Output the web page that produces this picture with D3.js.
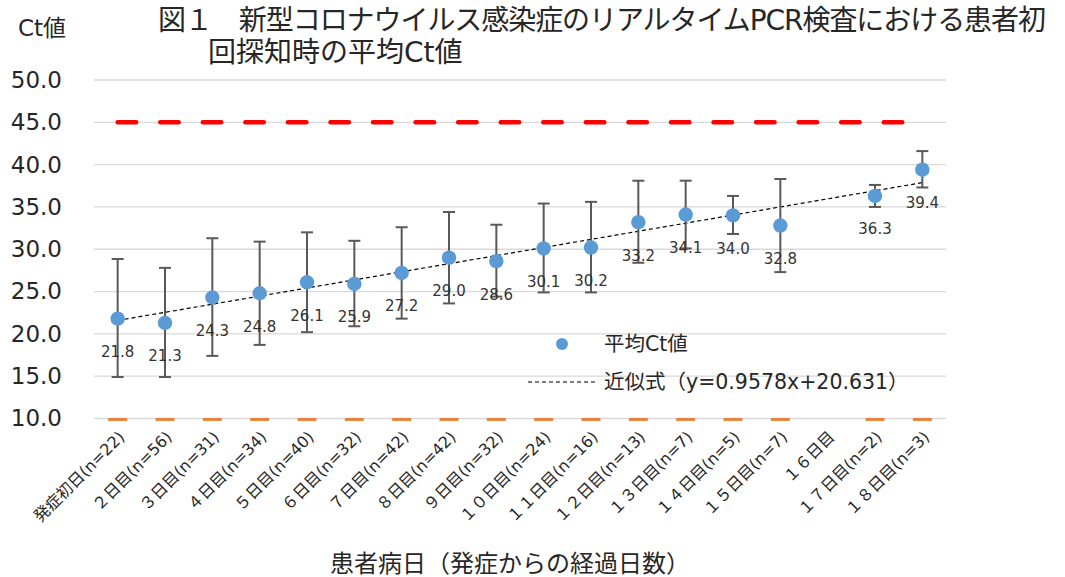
<!DOCTYPE html>
<html><head><meta charset="utf-8">
<script src="https://cdn.jsdelivr.net/npm/d3@7"></script>
<style>
body{margin:0;background:#fff;}
svg text{font-family:"DejaVu Sans","Noto Sans CJK JP",sans-serif;}
</style></head>
<body><svg id="c" width="1065" height="577"></svg>
<script>
const categories = ["発症初日(n=22)","２日目(n=56)","３日目(n=31)","４日目(n=34)","５日目(n=40)","６日目(n=32)","７日目(n=42)","８日目(n=42)","９日目(n=32)","１０日目(n=24)","１１日目(n=16)","１２日目(n=13)","１３日目(n=7)","１４日目(n=5)","１５日目(n=7)","１６日目","１７日目(n=2)","１８日目(n=3)"];
const meanCt = [21.8,21.3,24.3,24.8,26.1,25.9,27.2,29.0,28.6,30.1,30.2,33.2,34.1,34.0,32.8,null,36.3,39.4];
const errHigh = [28.85,27.8,31.3,30.9,32.0,31.0,32.6,34.4,32.9,35.4,35.6,38.1,38.1,36.3,38.3,null,37.6,41.6];
const errLow = [14.9,14.9,17.4,18.7,20.2,20.9,21.8,23.6,24.4,24.9,24.9,28.4,30.1,31.8,27.3,null,35.0,37.3];
const upperLimit = [45,45,45,45,45,45,45,45,45,45,45,45,45,45,45,45,45,45];
const lowerLimit = [10,10,10,10,10,10,10,10,10,10,10,10,10,10,10,null,10,10];
const trendSlope = 0.9578, trendIntercept = 20.631;
const yTicks = [10,15,20,25,30,35,40,45,50];
const titleLines = ["図１　新型コロナウイルス感染症のリアルタイムPCR検査における患者初","回探知時の平均Ct値"];
const yTitle = "Ct値";
const xTitle = "患者病日（発症からの経過日数）";
const legendLabels = ["平均Ct値","近似式（y=0.9578x+20.631）"];

const svg = d3.select("#c");
const x = d3.scaleBand().domain(categories).range([94,946]);
const cx = d => x(d) + x.bandwidth()/2;
const y = d3.scaleLinear().domain([10,50]).range([418.5,80]);
const txt = "#262626";

// gridlines
svg.append("g").selectAll("line").data(yTicks).join("line")
  .attr("x1",94).attr("x2",946).attr("y1",d=>y(d)).attr("y2",d=>y(d))
  .attr("stroke","#d9d9d9").attr("stroke-width",1.3);

// y axis labels
const ya = svg.append("g").attr("transform","translate(94,0)")
  .call(d3.axisLeft(y).tickValues(yTicks).tickFormat(d3.format(".1f")).tickSize(0).tickPadding(32));
ya.select(".domain").remove();
ya.selectAll("text").attr("font-size",23).attr("fill",txt).attr("font-family","DejaVu Sans");

// x axis labels
const idx = categories.map((c,i)=>i);
svg.append("g").selectAll("text").data(categories).join("text")
  .attr("transform",d=>`translate(${cx(d)+4},${434}) rotate(-45)`)
  .attr("text-anchor","end").attr("dy","0.35em")
  .attr("font-size",16).attr("fill",txt)
  .text(d=>d);

// upper limit red dashed line
const upPts = categories.map((c,i)=>[cx(c),upperLimit[i]]).filter(p=>p[1]!=null);
svg.append("path").datum(upPts)
  .attr("d",d3.line().x(p=>p[0]).y(p=>y(p[1])))
  .attr("fill","none").attr("stroke","#ff0000").attr("stroke-width",4.5)
  .attr("stroke-linecap","round").attr("stroke-dasharray","18.5,24.06");

// lower limit orange dash markers
svg.append("g").selectAll("line").data(idx.filter(i=>lowerLimit[i]!=null)).join("line")
  .attr("x1",i=>cx(categories[i])-9.5).attr("x2",i=>cx(categories[i])+9.5)
  .attr("y1",i=>y(lowerLimit[i])+1).attr("y2",i=>y(lowerLimit[i])+1)
  .attr("stroke","#ed7d31").attr("stroke-width",2.8);

// trend line
const tx = [1,categories.length];
svg.append("line")
  .attr("x1",cx(categories[0])).attr("x2",cx(categories[categories.length-1]))
  .attr("y1",y(trendSlope*tx[0]+trendIntercept)).attr("y2",y(trendSlope*tx[1]+trendIntercept))
  .attr("stroke","#000").attr("stroke-width",1.2).attr("stroke-dasharray","4,3");

// error bars
const valid = idx.filter(i=>meanCt[i]!=null);
const eb = svg.append("g").attr("stroke","#595959").attr("stroke-width",2);
eb.selectAll(".v").data(valid).join("line").attr("class","v")
  .attr("x1",i=>cx(categories[i])).attr("x2",i=>cx(categories[i]))
  .attr("y1",i=>y(errHigh[i])).attr("y2",i=>y(errLow[i]));
eb.selectAll(".t").data(valid).join("line").attr("class","t")
  .attr("x1",i=>cx(categories[i])-6).attr("x2",i=>cx(categories[i])+6)
  .attr("y1",i=>y(errHigh[i])).attr("y2",i=>y(errHigh[i]));
eb.selectAll(".b").data(valid).join("line").attr("class","b")
  .attr("x1",i=>cx(categories[i])-6).attr("x2",i=>cx(categories[i])+6)
  .attr("y1",i=>y(errLow[i])).attr("y2",i=>y(errLow[i]));

// points
svg.append("g").selectAll("circle").data(valid).join("circle")
  .attr("cx",i=>cx(categories[i])).attr("cy",i=>y(meanCt[i])).attr("r",7.2)
  .attr("fill","#5b9bd5");

// data labels
svg.append("g").selectAll("text").data(valid).join("text")
  .attr("x",i=>cx(categories[i])).attr("y",i=>y(meanCt[i])+38.5)
  .attr("text-anchor","middle").attr("font-size",15).attr("fill","#333")
  .text(i=>d3.format(".1f")(meanCt[i]));

// legend
svg.append("circle").attr("cx",562).attr("cy",344).attr("r",6).attr("fill","#5b9bd5");
svg.append("text").attr("x",604).attr("y",344).attr("dy","0.36em").attr("font-size",20.5).attr("fill",txt).text(legendLabels[0]);
svg.append("line").attr("x1",528).attr("x2",595).attr("y1",382).attr("y2",382)
  .attr("stroke","#000").attr("stroke-width",1.2).attr("stroke-dasharray","4,3");
svg.append("text").attr("x",604).attr("y",382).attr("dy","0.36em").attr("font-size",20.5).attr("fill",txt).text(legendLabels[1]);

// titles
svg.append("text").attr("x",158).attr("y",30).attr("font-size",28).attr("fill",txt)
  .attr("textLength",888).attr("lengthAdjust","spacing").text(titleLines[0]);
svg.append("text").attr("x",208).attr("y",62).attr("font-size",28).attr("fill",txt).text(titleLines[1]);
svg.append("text").attr("x",18).attr("y",36).attr("font-size",23).attr("fill",txt).text(yTitle);
svg.append("text").attr("x",510).attr("y",572).attr("text-anchor","middle").attr("font-size",24).attr("fill",txt)
  .attr("font-family","'Noto Sans CJK JP',sans-serif").text(xTitle);
</script></body></html>
